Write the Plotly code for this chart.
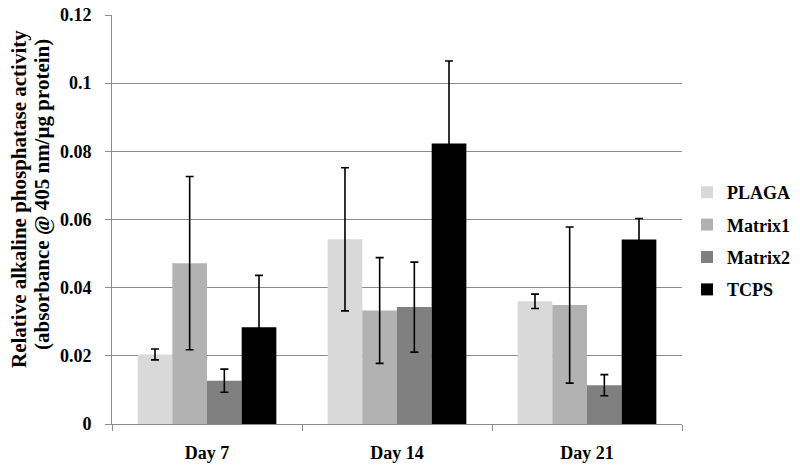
import plotly.graph_objects as go

categories = ["Day 7", "Day 14", "Day 21"]
series_names = ["PLAGA", "Matrix1", "Matrix2", "TCPS"]
plaga = [0.0204, 0.0542, 0.0360]
plaga_err = [0.0016, 0.0210, 0.0021]
matrix1 = [0.0472, 0.0333, 0.0349]
matrix1_err = [0.0254, 0.0155, 0.0229]
matrix2 = [0.0127, 0.0343, 0.0114]
matrix2_err = [0.0034, 0.0132, 0.0031]
tcps = [0.0284, 0.0823, 0.0541]
tcps_err = [0.0152, 0.0242, 0.0062]
y_ticks = [0, 0.02, 0.04, 0.06, 0.08, 0.1, 0.12]
y_tick_labels = ["0", "0.02", "0.04", "0.06", "0.08", "0.1", "0.12"]
y_title_lines = ["Relative alkaline phosphatase activity",
                 "(absorbance @ 405 nm/µg protein)"]

colors = ["#D9D9D9", "#B2B2B2", "#808080", "#000000"]
values = [plaga, matrix1, matrix2, tcps]
errors = [plaga_err, matrix1_err, matrix2_err, tcps_err]

FONT = "Liberation Serif, Times New Roman, serif"
W, H = 800, 469
# target plot area in page pixels: x 112..682, y 15..424
L, T = 112, 15
R = W - 682
B = H - 424
pw, ph = 570, 409


def px_x(x):
    return (x - 112) / pw


def px_y(y):
    return (424 - y) / ph


fig = go.Figure()
for name, vals, errs, col in zip(series_names, values, errors, colors):
    fig.add_trace(go.Bar(
        x=categories, y=vals, name=name, legendgroup=name,
        marker=dict(color=col, line=dict(width=0)),
        error_y=dict(type="data", array=errs, visible=True,
                     color="#000000", thickness=1.6, width=4),
    ))

fig.update_layout(
    width=W, height=H,
    margin=dict(l=L, r=R, t=T, b=B, autoexpand=False),
    paper_bgcolor="white", plot_bgcolor="white",
    barmode="group", bargap=0.27, bargroupgap=0,
    font=dict(family=FONT, color="#000000"),
    legend=dict(
        x=px_x(687), xanchor="left",
        y=px_y(174), yanchor="top",
        font=dict(family=FONT, size=18, weight="bold", color="#000000"),
        tracegroupgap=6, bgcolor="rgba(0,0,0,0)",
        itemwidth=30,
    ),
    xaxis=dict(
        showline=True, linecolor="#8C8C8C", linewidth=1,
        ticks="outside", tickson="boundaries", ticklen=6, tickcolor="#8C8C8C",
        tickfont=dict(family=FONT, size=18, weight="bold", color="#000000"),
        ticklabelstandoff=12,
        showgrid=False,
    ),
    yaxis=dict(
        range=[0, 0.12], tickvals=y_ticks, ticktext=y_tick_labels,
        showline=True, linecolor="#8C8C8C", linewidth=1,
        ticks="outside", ticklen=6, tickcolor="#8C8C8C",
        tickfont=dict(family=FONT, size=18, weight="bold", color="#000000"),
        ticklabelstandoff=10, ticklabeloverflow="allow",
        showgrid=True, gridcolor="#8C8C8C", gridwidth=1,
        zeroline=False,
    ),
    annotations=[
        dict(text=y_title_lines[0], xref="paper", yref="paper",
             x=px_x(19), y=px_y(199), xanchor="center", yanchor="middle",
             textangle=-90, showarrow=False,
             font=dict(family=FONT, size=21, weight="bold", color="#000000")),
        dict(text=y_title_lines[1], xref="paper", yref="paper",
             x=px_x(42), y=px_y(195), xanchor="center", yanchor="middle",
             textangle=-90, showarrow=False,
             font=dict(family=FONT, size=21, weight="bold", color="#000000")),
    ],
)

fig.write_html("out.html",
               config={"displayModeBar": False},
               post_script="document.body.style.margin='0';document.body.style.overflow='hidden';")
